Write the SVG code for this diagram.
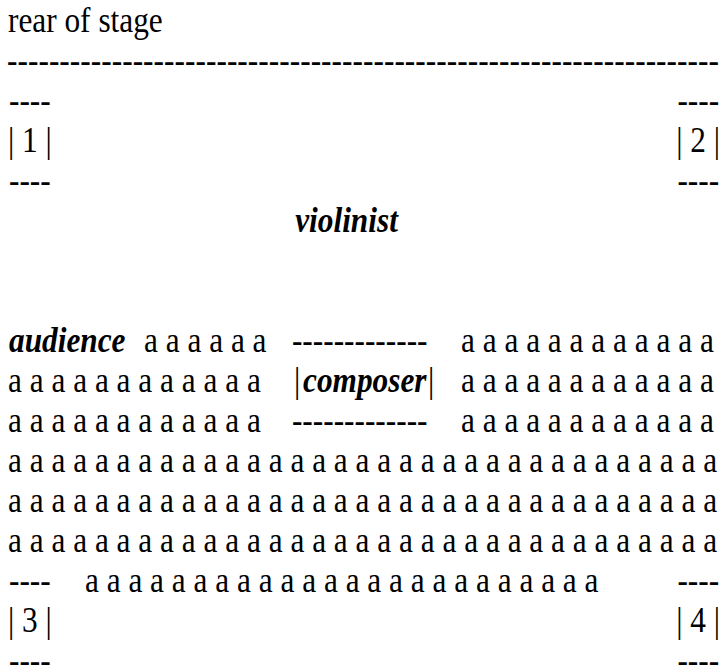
<svg xmlns="http://www.w3.org/2000/svg" width="725" height="665" viewBox="0 0 725 665">
<style>
text{font-family:"Liberation Serif","Times New Roman",serif;font-size:34.8px;fill:#000;white-space:pre}
.bi{font-weight:bold;font-style:italic}
.e{text-anchor:end}
</style>
<rect width="725" height="665" fill="#fff"/>
<g transform="scale(0.9,1)">
<g id="stage">
<text x="8.9" y="32">rear of stage</text>
<text x="7.8" y="72" textLength="791" lengthAdjust="spacing">--------------------------------------------------------------------</text>
</g>
<g id="box1">
<text x="10" y="112">----</text>
<text x="8.9" y="152">| 1 |</text>
<text x="10" y="192">----</text>
</g>
<g id="box2">
<text class="e" x="799" y="112">----</text>
<text class="e" x="800" y="152">| 2 |</text>
<text class="e" x="799" y="192">----</text>
</g>
<g id="violinist">
<text class="bi" x="328" y="232">violinist</text>
</g>
<g id="audience">
<text class="bi" x="10" y="352">audience</text>
<text x="160" y="352">a a a a a a</text>
<text x="512.2" y="352">a a a a a a a a a a a a</text>
<text x="8.9" y="392">a a a a a a a a a a a a</text>
<text x="512.2" y="392">a a a a a a a a a a a a</text>
<text x="8.9" y="432">a a a a a a a a a a a a</text>
<text x="512.2" y="432">a a a a a a a a a a a a</text>
<text x="8.9" y="472">a a a a a a a a a a a a a a a a a a a a a a a a a a a a a a a a a</text>
<text x="8.9" y="512">a a a a a a a a a a a a a a a a a a a a a a a a a a a a a a a a a</text>
<text x="8.9" y="552">a a a a a a a a a a a a a a a a a a a a a a a a a a a a a a a a a</text>
<text x="94.4" y="592">a a a a a a a a a a a a a a a a a a a a a a a a</text>
</g>
<g id="composer">
<text x="324.4" y="352">-------------</text>
<text x="326.7" y="392">|</text>
<text class="bi" x="336.7" y="392">composer</text>
<text x="475.6" y="392">|</text>
<text x="324.4" y="432">-------------</text>
</g>
<g id="box3">
<text x="10" y="592">----</text>
<text x="8.9" y="632">| 3 |</text>
<text x="10" y="672">----</text>
</g>
<g id="box4">
<text class="e" x="799" y="592">----</text>
<text class="e" x="800" y="632">| 4 |</text>
<text class="e" x="799" y="672">----</text>
</g>
</g>
<g id="connectors"></g>
</svg>
